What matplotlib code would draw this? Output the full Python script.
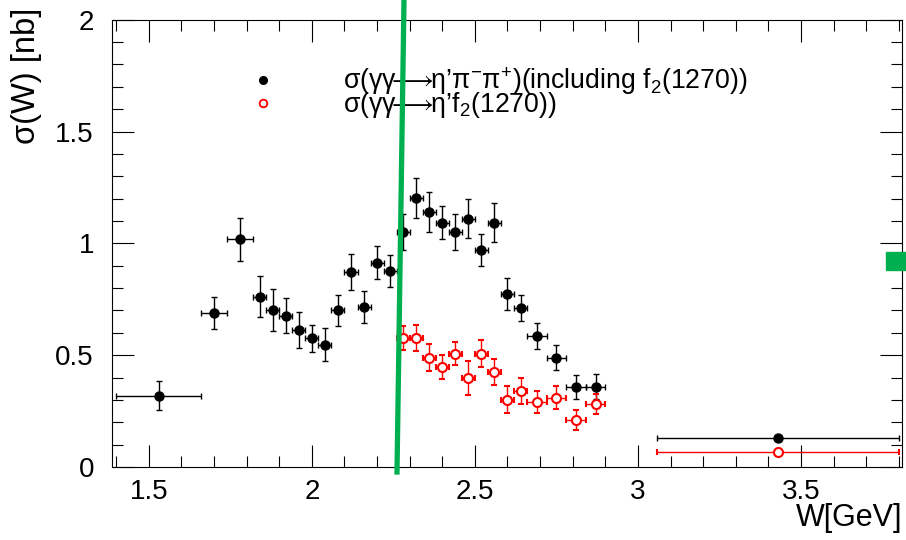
import numpy as np
import matplotlib.pyplot as plt
from matplotlib.lines import Line2D
from matplotlib.ticker import MultipleLocator

plt.rcParams['font.family'] = ['Liberation Sans', 'DejaVu Sans']
plt.rcParams['mathtext.fontset'] = 'custom'
plt.rcParams['mathtext.rm'] = 'Liberation Sans'
plt.rcParams['mathtext.it'] = 'Liberation Sans:italic'
plt.rcParams['mathtext.default'] = 'regular'
plt.rcParams['mathtext.fallback'] = 'stixsans'

# eta' pi- pi+ cross section (including f2(1270))
w_all = [1.53, 1.70, 1.78, 1.84, 1.88, 1.92, 1.96, 2.00, 2.04, 2.08, 2.12, 2.16,
         2.20, 2.24, 2.28, 2.32, 2.36, 2.40, 2.44, 2.48, 2.52, 2.56, 2.60, 2.64,
         2.69, 2.75, 2.81, 2.87, 3.43]
w_all_err = [0.13, 0.04, 0.04, 0.02, 0.02, 0.02, 0.02, 0.02, 0.02, 0.02, 0.02, 0.02,
             0.02, 0.02, 0.02, 0.02, 0.02, 0.02, 0.02, 0.02, 0.02, 0.02, 0.02, 0.02,
             0.03, 0.03, 0.03, 0.03, 0.37]
sig_all = [0.318, 0.690, 1.019, 0.762, 0.702, 0.677, 0.614, 0.576, 0.547, 0.700,
           0.871, 0.716, 0.914, 0.877, 1.050, 1.202, 1.141, 1.093, 1.051, 1.111,
           0.969, 1.093, 0.773, 0.711, 0.586, 0.488, 0.357, 0.359, 0.131]
sig_all_err = [0.065, 0.072, 0.096, 0.092, 0.093, 0.080, 0.080, 0.060, 0.074, 0.069,
               0.081, 0.072, 0.075, 0.070, 0.081, 0.089, 0.089, 0.075, 0.081, 0.086,
               0.072, 0.088, 0.070, 0.057, 0.057, 0.056, 0.053, 0.057, 0.008]

# eta' f2(1270) cross section
w_f2 = [2.28, 2.32, 2.36, 2.40, 2.44, 2.48, 2.52, 2.56, 2.60, 2.64, 2.69, 2.75,
        2.81, 2.87, 3.43]
w_f2_err = [0.02, 0.02, 0.02, 0.02, 0.02, 0.02, 0.02, 0.02, 0.02, 0.02, 0.03, 0.03,
            0.03, 0.03, 0.37]
sig_f2 = [0.576, 0.576, 0.489, 0.449, 0.507, 0.398, 0.507, 0.424, 0.301, 0.340,
          0.292, 0.310, 0.210, 0.282, 0.066]
sig_f2_err = [0.055, 0.057, 0.059, 0.054, 0.053, 0.078, 0.062, 0.057, 0.060, 0.058,
              0.050, 0.052, 0.045, 0.043, 0.008]

label_all = r"σ(γγ$\!\!\longrightarrow\!\!$η’π$^{-}$π$^{+}$)(including f$_{2}$(1270))"
label_f2 = r"σ(γγ$\!\!\longrightarrow\!\!$η’f$_{2}$(1270))"

fig = plt.figure(figsize=(9.06, 5.40), dpi=100)
ax = fig.add_axes([0.1236, 0.1352, 0.8720, 0.8282])

ax.errorbar(w_all, sig_all, xerr=w_all_err, yerr=sig_all_err, fmt='o', color='black',
            ms=6.5, elinewidth=1, capsize=2, capthick=1, ecolor='black', zorder=3)
ax.errorbar(w_f2, sig_f2, xerr=w_f2_err, yerr=sig_f2_err, fmt='o', color='red',
            mfc='white', mec='red', mew=1.5, ms=6.5, elinewidth=1, capsize=2,
            capthick=1, ecolor='red', zorder=3)

ax.set_xlim(1.387, 3.81)
ax.set_ylim(0, 2)
ax.xaxis.set_major_locator(MultipleLocator(0.5))
ax.xaxis.set_minor_locator(MultipleLocator(0.1))
ax.yaxis.set_major_locator(MultipleLocator(0.5))
ax.yaxis.set_minor_locator(MultipleLocator(0.1))
ax.xaxis.set_major_formatter(plt.FuncFormatter(lambda v, p: '%g' % v))
ax.yaxis.set_major_formatter(plt.FuncFormatter(lambda v, p: '%g' % v))
ax.tick_params(which='both', direction='in', top=True, right=True, width=0.8,
               labelsize=20)
ax.tick_params(which='major', length=16)
ax.tick_params(which='minor', length=8)
ax.tick_params(axis='x', pad=9)
ax.tick_params(axis='y', pad=13)

ax.set_xlabel('W[GeV]', fontsize=22, loc='right')
ax.xaxis.set_label_coords(1.0, -0.08)
ax.set_ylabel('σ(W) [nb]', fontsize=23.5, loc='top')
ax.yaxis.set_label_coords(-0.089, 1.027)

handles = [Line2D([], [], ls='none', marker='o', color='black', ms=5.5),
           Line2D([], [], ls='none', marker='o', mfc='white', mec='red', mew=1.3, ms=5.5)]
ax.legend(handles, [label_all, label_f2], loc='upper left', frameon=False,
          bbox_to_anchor=(0.174, 0.898), borderpad=0, borderaxespad=0,
          handlelength=1, handletextpad=2.5, labelspacing=-0.25, fontsize=19.2)

# green annotation marks drawn over the figure
fig.add_artist(Line2D([404 / 906, 397 / 906], [1.0, 1 - 472 / 540],
                      color='#00b050', lw=3.8, transform=fig.transFigure))
fig.add_artist(plt.Rectangle((886 / 906, 1 - 270 / 540), 20 / 906, 18 / 540,
                             color='#00b050', transform=fig.transFigure))

fig.savefig('out.png', dpi=100)
